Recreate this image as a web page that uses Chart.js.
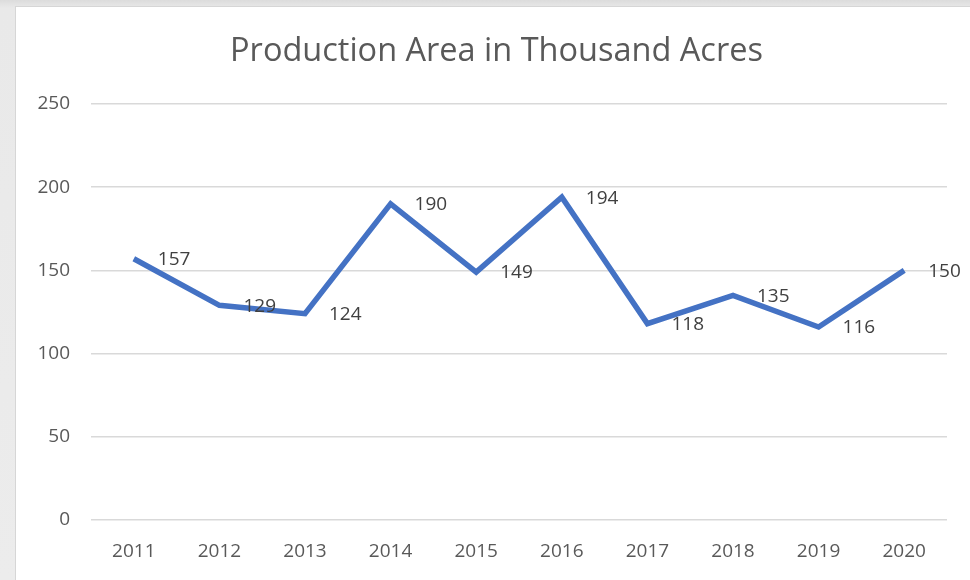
<!DOCTYPE html>
<html>
<head>
<meta charset="utf-8">
<script src="https://cdn.jsdelivr.net/npm/chart.js@4"></script>
<style>
  html, body { margin: 0; padding: 0; }
  body {
    width: 970px; height: 580px; overflow: hidden;
    background: linear-gradient(180deg, #dcdcdc 0px, #e9e9e9 8px, #ececec 100%);
    position: relative;
  }
  #box {
    position: absolute; left: 15px; top: 6px;
    width: 955px; height: 574px;
    background: #fff;
    border-left: 1px solid #d6d6d6; border-top: 1px solid #d6d6d6;
    box-sizing: border-box;
  }
  #chartArea { position: absolute; left: -1px; top: -1px; }
</style>
</head>
<body>
<div id="box"><canvas id="chartArea" width="955" height="574"></canvas></div>
<script>
const years = ["2011", "2012", "2013", "2014", "2015", "2016", "2017", "2018", "2019", "2020"];
const areaValues = [157, 129, 124, 190, 149, 194, 118, 135, 116, 150];
const yTicks = [0, 50, 100, 150, 200, 250];

const fontFamily = "'Open Sans', 'Liberation Sans', sans-serif";

// labels to the right of each point, like Excel's "Right" position
const pointLabels = {
  id: "pointLabels",
  afterDatasetsDraw(chart) {
    const ctx = chart.ctx;
    const meta = chart.getDatasetMeta(0);
    ctx.save();
    ctx.font = "19px " + fontFamily;
    ctx.fillStyle = "#404040";
    ctx.textAlign = "left";
    ctx.textBaseline = "middle";
    meta.data.forEach((pt, i) => {
      ctx.fillText(String(areaValues[i]), pt.x + 24, pt.y + 1);
    });
    ctx.restore();
  },
};

new Chart(document.getElementById("chartArea").getContext("2d"), {
  type: "line",
  plugins: [pointLabels],
  data: {
    labels: years,
    datasets: [
      {
        label: "Production Area",
        data: areaValues,
        borderColor: "#4472C4",
        borderWidth: 5.5,
        pointRadius: 0,
        tension: 0,
        fill: false,
      },
    ],
  },
  options: {
    responsive: false,
    animation: false,
    devicePixelRatio: 1,
    layout: { padding: { left: 8, right: 0, top: 0, bottom: 0 } },
    plugins: {
      legend: { display: false },
      tooltip: { enabled: false },
      title: {
        display: true,
        text: "Production Area in Thousand Acres",
        color: "#595959",
        font: { family: fontFamily, size: 32.5, weight: "normal" },
        padding: { top: 26, bottom: 33 },
      },
    },
    scales: {
      x: {
        offset: true,
        grid: { display: false, drawTicks: false },
        border: { display: false },
        ticks: {
          color: "#595959",
          font: { family: fontFamily, size: 19 },
          padding: 20,
          maxRotation: 0,
        },
        afterFit(scale) { scale.height = 60; },
      },
      y: {
        min: 0,
        max: 250,
        afterBuildTicks(scale) { scale.ticks = yTicks.map((v) => ({ value: v })); },
        grid: { color: "#d9d9d9", lineWidth: 1.5, drawTicks: false },
        border: { display: false },
        ticks: {
          color: "#595959",
          font: { family: fontFamily, size: 19 },
          padding: 21,
        },
        afterFit(scale) { scale.width = 68; },
      },
      // empty right-hand spacer so the plot ends where Excel's does
      yRight: {
        position: "right",
        min: 0,
        max: 250,
        grid: { display: false, drawTicks: false },
        border: { display: false },
        ticks: { display: false },
        afterFit(scale) { scale.width = 23; },
      },
    },
  },
});
</script>
</body>
</html>
